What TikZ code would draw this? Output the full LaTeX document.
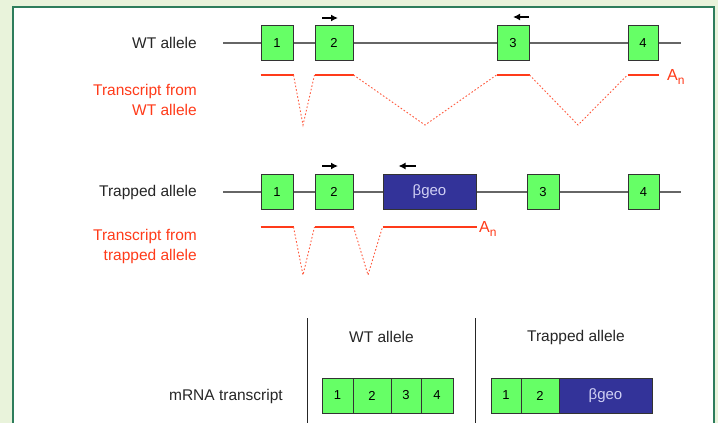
\documentclass[tikz,border=0pt]{standalone}
\usepackage{fontspec}
\setmainfont{Liberation Sans}
\usetikzlibrary{arrows.meta}
\definecolor{bgout}{HTML}{E9F3DB}
\definecolor{framec}{HTML}{2E7D5C}
\definecolor{exg}{HTML}{66FF66}
\definecolor{geo}{HTML}{333399}
\definecolor{txc}{HTML}{FF3B1A}
\definecolor{geotext}{HTML}{D0D0F4}
\definecolor{genec}{HTML}{666666}
\begin{document}
\begin{tikzpicture}[x=1pt,y=-1pt,
  lbl/.style={font=\fontsize{15.5}{20}\selectfont, text=black!85, inner sep=0pt},
  redlbl/.style={font=\fontsize{15.5}{20}\selectfont, text=txc, inner sep=0pt, align=right},
  exon/.style={draw=black!80, line width=1pt, fill=exg, inner sep=0pt, minimum height=35pt, font=\fontsize{13}{15}\selectfont},
  geobox/.style={draw=black!80, line width=1pt, fill=geo, inner sep=0pt, minimum height=35pt, text=geotext, font=\fontsize{15}{17}\selectfont},
  gene/.style={draw=genec, line width=1.2pt},
  txsolid/.style={draw=txc, line width=2pt},
  txdot/.style={draw=txc!85, line width=0.9pt, dash pattern=on 1.6pt off 2pt},
  arr/.style={-{Latex[length=7pt,width=7pt]}, line width=1.4pt, black},
  an/.style={text=txc, inner sep=0pt, font=\fontsize{16}{18}\selectfont},
  divline/.style={draw=black!85, line width=1pt}
]
\useasboundingbox (0,0) rectangle (718,423);
\fill[bgout] (0,0) rectangle (718,423);
\fill[white] (13,7) rectangle (714,423);
\draw[framec, line width=1.5pt] (13,424) -- (13,7) -- (714,7) -- (714,424);

% ---------- WT allele ----------
\coordinate (wl) at (223,43);
\coordinate (wr) at (681,43);
\draw[gene] (wl) -- (wr);
\node[exon, minimum width=32pt] (w1) at (277,43) {1};
\node[exon, minimum width=38pt] (w2) at (334,43) {2};
\node[exon, minimum width=32pt] (w3) at (513,43) {3};
\node[exon, minimum width=30pt] (w4) at (643,43) {4};
\draw[arr] ([xshift=-12pt,yshift=7pt]w2.north) -- ([xshift=4pt,yshift=7pt]w2.north);
\draw[arr] ([xshift=16pt,yshift=8pt]w3.north) -- ([xshift=0pt,yshift=8pt]w3.north);
\node[lbl, anchor=east] (wtlab) at (197,43) {WT allele};
\node[redlbl, anchor=east] (wttx) at (197,100) {Transcript from\\WT allele};

% WT transcript
\draw[txsolid] (w1.west |- 0,75) -- (w1.east |- 0,75);
\draw[txsolid] (w2.west |- 0,75) -- (w2.east |- 0,75);
\draw[txsolid] (w3.west |- 0,75) -- (w3.east |- 0,75);
\draw[txsolid] (w4.west |- 0,75) -- (w4.east |- 0,75);
\draw[txdot] (w1.east |- 0,75) -- (303,125) -- (w2.west |- 0,75);
\draw[txdot] (w2.east |- 0,75) -- (425,125) -- (w3.west |- 0,75);
\draw[txdot] (w3.east |- 0,75) -- (578,125) -- (w4.west |- 0,75);
\node[an, anchor=west] (an1) at (667,77) {A\raisebox{-4pt}{\fontsize{12}{14}\selectfont n}};

% ---------- Trapped allele ----------
\coordinate (tl) at (223,192);
\coordinate (tr) at (681,192);
\draw[gene] (tl) -- (tr);
\node[exon, minimum width=32pt] (t1) at (277,192) {1};
\node[exon, minimum width=38pt] (t2) at (334,192) {2};
\node[geobox, minimum width=93pt] (tg) at (429.5,192) {βgeo};
\node[exon, minimum width=32pt] (t3) at (543,192) {3};
\node[exon, minimum width=31pt] (t4) at (643.5,192) {4};
\draw[arr] ([xshift=-12pt,yshift=8pt]t2.north) -- ([xshift=4pt,yshift=8pt]t2.north);
\draw[arr] ([xshift=-14pt,yshift=8pt]tg.north) -- ([xshift=-31pt,yshift=8pt]tg.north);
\node[lbl, anchor=east] (trlab) at (197,192) {Trapped allele};
\node[redlbl, anchor=east] (trtx) at (197,246.5) {Transcript from\\trapped allele};

% trapped transcript
\draw[txsolid] (t1.west |- 0,227) -- (t1.east |- 0,227);
\draw[txsolid] (t2.west |- 0,227) -- (t2.east |- 0,227);
\draw[txsolid] (tg.west |- 0,227) -- (tg.east |- 0,227);
\draw[txdot] (t1.east |- 0,227) -- (303,275) -- (t2.west |- 0,227);
\draw[txdot] (t2.east |- 0,227) -- (368,275) -- (tg.west |- 0,227);
\node[an, anchor=west] (an2) at (479,229) {A\raisebox{-4pt}{\fontsize{12}{14}\selectfont n}};

% ---------- mRNA table ----------
\coordinate (v1t) at (307,318);
\coordinate (v1b) at (307,423);
\coordinate (v2t) at (475,318);
\coordinate (v2b) at (475,423);
\draw[divline] (v1t) -- (v1b);
\draw[divline] (v2t) -- (v2b);
\node[lbl] (hwt) at (381.5,337) {WT allele};
\node[lbl] (htr) at (576,337) {Trapped allele};
\node[lbl, anchor=east] (mrna) at (283,396) {mRNA transcript};

\node[exon, minimum width=31pt] (m1) at (337.5,395.5) {1};
\node[exon, minimum width=38pt] (m2) at (372,395.5) {2};
\node[exon, minimum width=30pt] (m3) at (406,395.5) {3};
\node[exon, minimum width=32pt] (m4) at (437,395.5) {4};

\node[exon, minimum width=30pt] (n1) at (506,395.5) {1};
\node[exon, minimum width=38pt] (n2) at (540,395.5) {2};
\node[geobox, minimum width=93pt] (ng) at (605.5,395.5) {βgeo};
\end{tikzpicture}
\end{document}
